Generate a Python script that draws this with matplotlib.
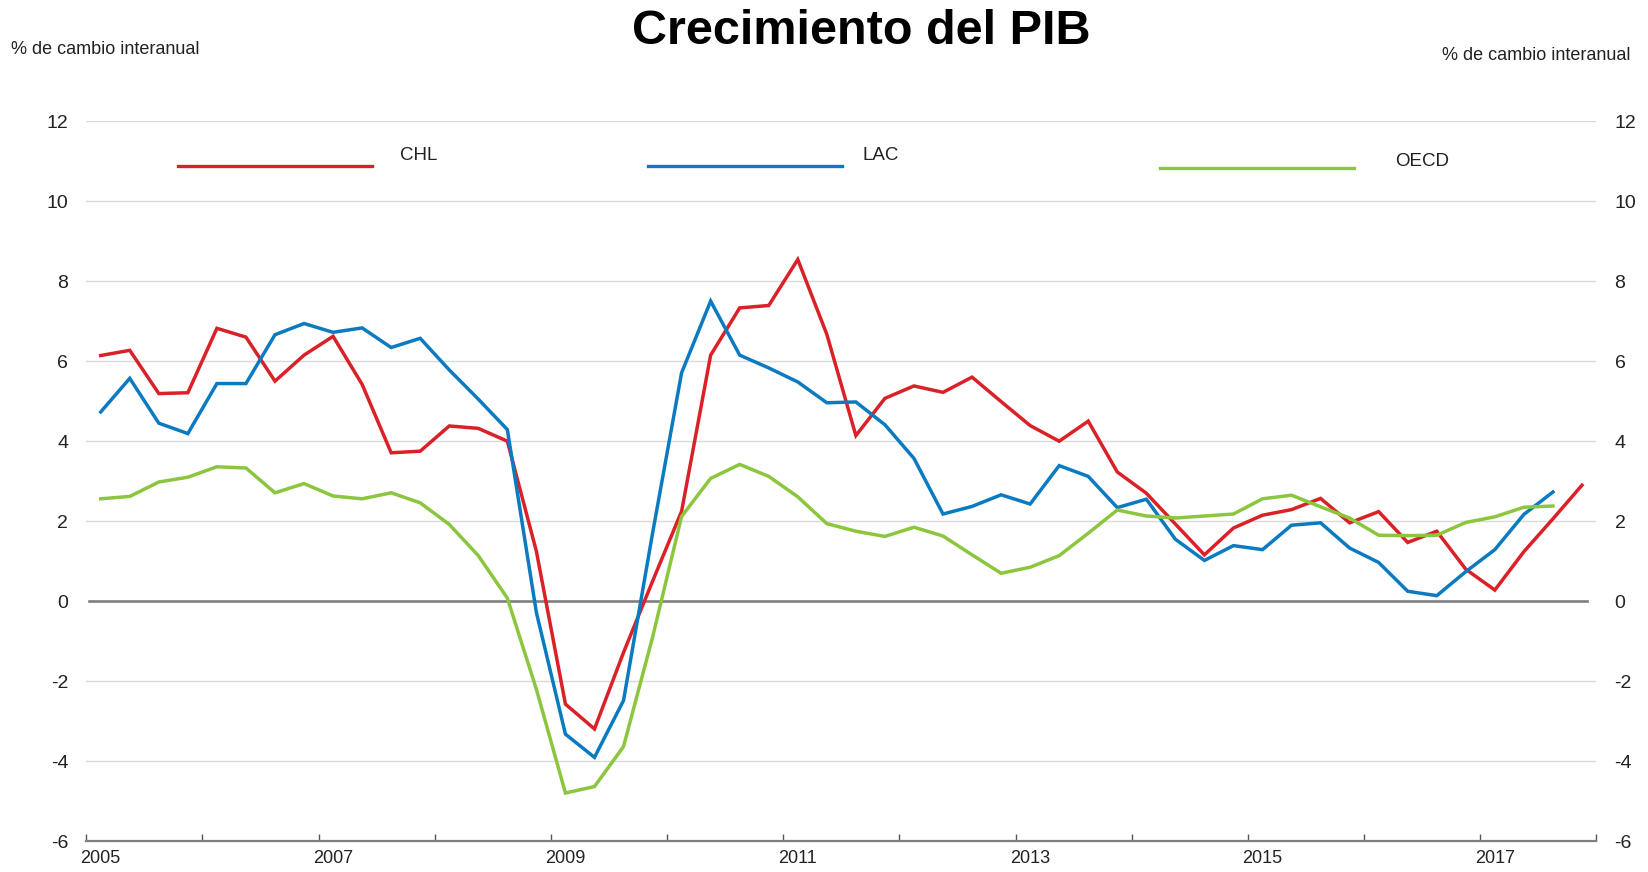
import matplotlib
matplotlib.use("Agg")
import matplotlib.pyplot as plt
from matplotlib.lines import Line2D
import numpy as np

plt.rcParams['font.family'] = ['Liberation Sans', 'DejaVu Sans']

# Quarterly data, 2005Q1 .. 2017Q4
years = [2005, 2007, 2009, 2011, 2013, 2015, 2017]
year_labels = [str(y) for y in years]

chl = [6.14, 6.27, 5.19, 5.21, 6.82, 6.60, 5.50, 6.15, 6.62, 5.42, 3.71, 3.75,
       4.38, 4.32, 4.00, 1.25, -2.57, -3.19, -1.28, 0.50, 2.25, 6.15, 7.33, 7.39,
       8.54, 6.67, 4.14, 5.07, 5.38, 5.22, 5.60, 4.99, 4.39, 4.00, 4.50, 3.23,
       2.70, 1.93, 1.16, 1.83, 2.15, 2.29, 2.57, 1.96, 2.24, 1.47, 1.75, 0.80,
       0.28, 1.24, 2.06, 2.90]

lac = [4.73, 5.57, 4.45, 4.19, 5.44, 5.44, 6.66, 6.94, 6.72, 6.83, 6.34, 6.57,
       5.78, 5.05, 4.29, -0.28, -3.32, -3.90, -2.48, 1.70, 5.71, 7.50, 6.15, 5.83,
       5.48, 4.96, 4.98, 4.41, 3.57, 2.18, 2.37, 2.66, 2.43, 3.39, 3.12, 2.34,
       2.55, 1.55, 1.02, 1.39, 1.29, 1.90, 1.96, 1.33, 0.97, 0.25, 0.14, 0.74,
       1.29, 2.17, 2.73]

oecd = [2.56, 2.62, 2.98, 3.10, 3.36, 3.33, 2.71, 2.94, 2.63, 2.56, 2.71, 2.46,
        1.92, 1.14, 0.08, -2.20, -4.79, -4.63, -3.63, -0.90, 2.12, 3.07, 3.42, 3.12,
        2.61, 1.94, 1.75, 1.62, 1.85, 1.63, 1.16, 0.70, 0.85, 1.14, 1.70, 2.28,
        2.13, 2.08, 2.13, 2.18, 2.56, 2.65, 2.36, 2.08, 1.65, 1.64, 1.65, 1.97,
        2.11, 2.35, 2.38]

series_names = ['CHL', 'LAC', 'OECD']
colors = ['#DA2128', '#0B7BC1', '#8CC63F']

W, H = 1649, 872
fig = plt.figure(figsize=(W / 100, H / 100), dpi=100)
ax = fig.add_axes([86.2 / W, 1 - 841.4 / H, (1596.5 - 86.2) / W, (841.4 - 121) / H])

n = len(chl)
ax.set_xlim(-0.5, n - 0.5)
ax.set_ylim(-6, 12)

yt = np.arange(-6, 13, 2)
for v in yt:
    if v not in (0, -6):
        ax.axhline(v, color='#d9d9d9', lw=1.0, zorder=1)
ax.axhline(0, xmin=0.002, xmax=0.994, color='#7f7f7f', lw=1.9, zorder=2)

for data, c in zip([chl, lac, oecd], colors):
    ax.plot(np.arange(len(data)), data, color=c, lw=2.5, zorder=3,
            solid_joinstyle='miter')

for s in ['top', 'left', 'right']:
    ax.spines[s].set_visible(False)
ax.spines['bottom'].set_color('#7f7f7f')
ax.spines['bottom'].set_linewidth(1.6)

# y ticks both sides
ax.set_yticks(yt)
ax.set_yticklabels([str(v) for v in yt])
ax.tick_params(axis='y', length=0, pad=13, labelsize=14, colors='#222222',
               labelleft=True, labelright=True)

# x ticks: labels at Q1 of odd years, tick marks at year boundaries
qpos = [(y - 2005) * 4 for y in years]
ax.set_xticks(qpos)
ax.set_xticklabels(year_labels)
ax.tick_params(axis='x', which='major', length=0, pad=6, labelsize=13, colors='#222222')
ax.set_xticks(np.arange(-0.5, n, 4), minor=True)
ax.tick_params(axis='x', which='minor', direction='in', length=5, width=1.0,
               color='#555555')

# title & unit labels
fig.text(861 / W, 1 - 31 / H, 'Crecimiento del PIB', ha='center', va='center',
         fontsize=35, fontweight='bold', color='#000000')
fig.text(11 / W, 1 - 50 / H, '% de cambio interanual', ha='left', va='center',
         fontsize=13, color='#222222')
fig.text(1631 / W, 1 - 55 / H, '% de cambio interanual', ha='right', va='center',
         fontsize=13, color='#222222')

# legend drawn as in the original (lines with labels to the right)
leg = [(178, 372, 165.7, 400, 155.7), (648, 842, 165.7, 863, 155.0),
       (1160, 1354, 168.3, 1395, 161.7)]
for (x0, x1, yl, xt, yt_), name, c in zip(leg, series_names, colors):
    fig.add_artist(Line2D([x0 / W, x1 / W], [1 - yl / H, 1 - yl / H],
                          transform=fig.transFigure, color=c, lw=2.4))
    fig.text(xt / W, 1 - yt_ / H, name, ha='left', va='center', fontsize=13.5,
             color='#222222')

fig.savefig('out.png', dpi=100, facecolor='white')
